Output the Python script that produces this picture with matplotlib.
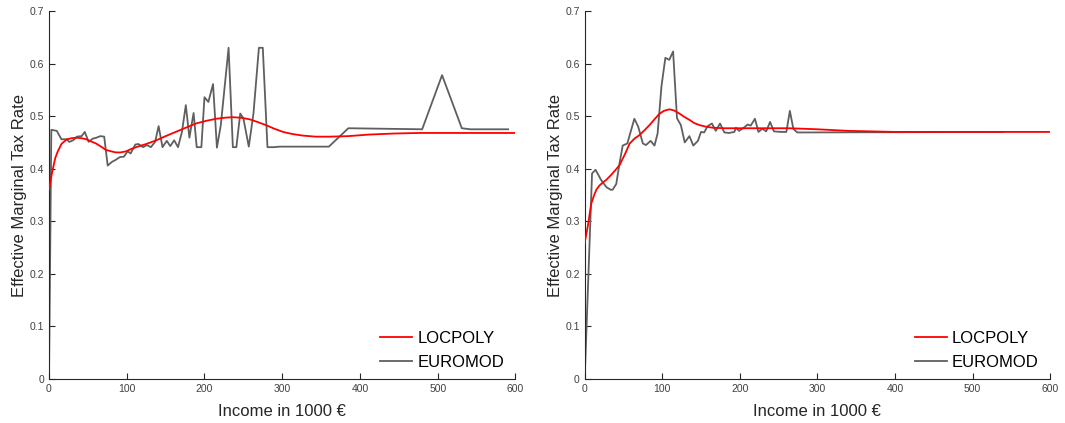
import numpy as np
import matplotlib.pyplot as plt

plt.rcParams['font.family'] = ['Liberation Sans', 'DejaVu Sans']

# left panel, EUROMOD
x_eu_l = [0, 3, 10, 16, 23, 26, 31, 36, 42, 46, 51, 56, 61, 66, 71, 75.5, 81, 86, 91, 96.5,
          101, 105, 111, 115, 121, 126, 131, 136.5, 141, 146, 151.5, 156, 161, 166, 171, 176,
          180.6, 186, 190, 196, 200, 205, 211, 216, 221, 231, 236.5, 241, 246, 250, 257, 263,
          270, 275, 281, 289, 297, 314.5, 332, 360, 385, 480, 505.6, 531, 542, 590.5]
y_eu_l = [0.0, 0.474, 0.472, 0.456, 0.456, 0.451, 0.454, 0.461, 0.462, 0.470, 0.451, 0.457,
          0.459, 0.462, 0.461, 0.406, 0.413, 0.417, 0.422, 0.423, 0.433, 0.429, 0.446, 0.447,
          0.441, 0.445, 0.441, 0.451, 0.481, 0.441, 0.453, 0.443, 0.454, 0.441, 0.470, 0.521,
          0.459, 0.506, 0.441, 0.441, 0.536, 0.527, 0.561, 0.440, 0.483, 0.630, 0.441, 0.441,
          0.505, 0.496, 0.442, 0.505, 0.630, 0.630, 0.441, 0.441, 0.442, 0.442, 0.442, 0.442,
          0.477, 0.475, 0.578, 0.477, 0.475, 0.475]

# left panel, LOCPOLY
x_lp_l = [0, 3, 5.6, 8, 11, 16, 23, 29, 35, 42, 48, 54, 60.5, 67, 73, 80, 86, 92, 99, 105,
          112, 125, 138, 150, 163, 176, 189, 202, 215, 226, 236, 247, 258, 268, 279, 290, 301,
          313, 326.5, 343, 361, 385, 412, 445, 477, 520, 600]
y_lp_l = [0.36, 0.385, 0.404, 0.420, 0.432, 0.447, 0.456, 0.458, 0.459, 0.458, 0.456, 0.452,
          0.448, 0.442, 0.436, 0.433, 0.431, 0.431, 0.433, 0.437, 0.441, 0.447, 0.454, 0.462,
          0.470, 0.478, 0.486, 0.491, 0.495, 0.497, 0.498, 0.497, 0.494, 0.489, 0.483, 0.476,
          0.470, 0.466, 0.463, 0.461, 0.461, 0.462, 0.465, 0.467, 0.468, 0.468, 0.468]

# right panel, EUROMOD
x_eu_r = [0, 9.5, 14, 21, 28, 33.4, 36, 40.7, 45, 49, 55, 64, 69, 75, 79, 85, 90, 94, 99,
          104, 109, 114, 119, 124, 129, 135, 140, 146, 150, 154, 158.5, 164, 169, 174.5, 180,
          186, 193, 195, 199, 206, 210, 214, 219.5, 224, 229, 234, 239, 244, 253, 260, 264.5,
          269, 274, 287, 540]
y_eu_r = [0.0, 0.391, 0.398, 0.379, 0.365, 0.360, 0.360, 0.371, 0.411, 0.444, 0.448, 0.495,
          0.480, 0.448, 0.445, 0.453, 0.444, 0.467, 0.557, 0.611, 0.607, 0.623, 0.496, 0.483,
          0.450, 0.462, 0.444, 0.453, 0.470, 0.469, 0.481, 0.486, 0.472, 0.486, 0.469, 0.468,
          0.470, 0.478, 0.472, 0.479, 0.484, 0.482, 0.495, 0.470, 0.476, 0.471, 0.489, 0.471,
          0.470, 0.470, 0.510, 0.476, 0.469, 0.469, 0.470]

# right panel, LOCPOLY
x_lp_r = [0, 2, 4.3, 6.5, 8.6, 12, 15, 19, 23.6, 28, 34, 40, 45, 52, 58, 64, 70.7, 77,
          83.6, 90, 96, 102, 109, 115, 122, 128, 135, 141, 148, 156, 165, 180, 220, 264,
          300, 340, 400, 600]
y_lp_r = [0.258, 0.275, 0.293, 0.315, 0.334, 0.349, 0.360, 0.368, 0.374, 0.379, 0.388,
          0.398, 0.407, 0.428, 0.448, 0.457, 0.464, 0.473, 0.483, 0.494, 0.504, 0.510, 0.513,
          0.511, 0.505, 0.499, 0.493, 0.487, 0.483, 0.480, 0.478, 0.477, 0.477, 0.477, 0.475,
          0.472, 0.470, 0.470]

fig = plt.figure(figsize=(10.65, 4.23), dpi=100)
ax1 = fig.add_axes([0.046, 0.104, 0.438, 0.870])
ax2 = fig.add_axes([0.549, 0.104, 0.437, 0.870])

panels = [(ax1, x_lp_l, y_lp_l, x_eu_l, y_eu_l), (ax2, x_lp_r, y_lp_r, x_eu_r, y_eu_r)]
for ax, xl, yl, xe, ye in panels:
    ax.plot(xe, ye, color='#5f5f5f', lw=1.3, label='EUROMOD', zorder=2)
    ax.plot(xl, yl, color='#ff0000', lw=1.3, label='LOCPOLY', zorder=3)
    ax.set_xlim(0, 600)
    ax.set_ylim(0, 0.7)
    ax.set_xticks(np.arange(0, 601, 100))
    ax.set_yticks(np.arange(0, 0.71, 0.1))
    ax.set_yticklabels(['0', '0.1', '0.2', '0.3', '0.4', '0.5', '0.6', '0.7'])
    for s in ['top', 'right']:
        ax.spines[s].set_visible(False)
    for s in ['left', 'bottom']:
        ax.spines[s].set_color('#262626')
        ax.spines[s].set_linewidth(0.8)
    ax.tick_params(direction='in', length=4, width=0.8, color='#262626',
                   labelsize=7.5, labelcolor='#404040')
    ax.set_xlabel('Income in 1000 €', fontsize=12, color='#262626', labelpad=7)
    ax.set_ylabel('Effective Marginal Tax Rate', fontsize=12, color='#262626', labelpad=2)
    h, lab = ax.get_legend_handles_labels()
    ax.legend(h[::-1], lab[::-1], loc='lower right', frameon=False, fontsize=12,
              handlelength=1.95, handletextpad=0.3, labelspacing=0.5,
              bbox_to_anchor=(1.008, -0.015))

fig.savefig('out.png', dpi=100)
